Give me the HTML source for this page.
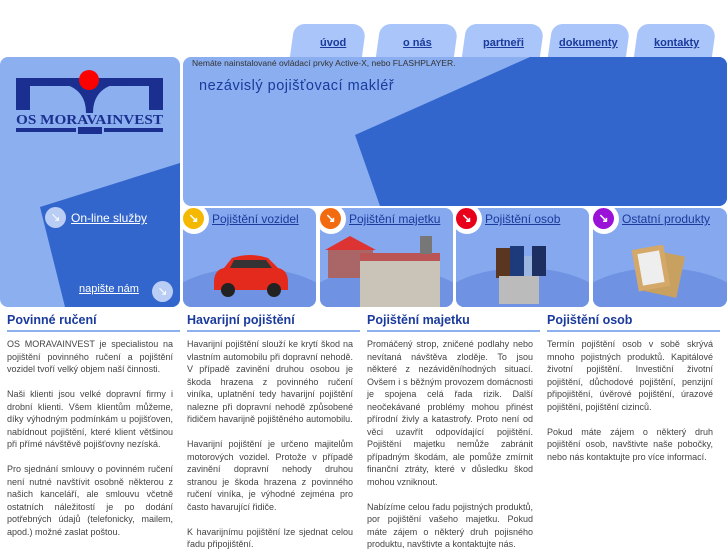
<!DOCTYPE html>
<html><head><meta charset="utf-8"><style>
*{margin:0;padding:0;box-sizing:border-box}
body{width:727px;height:545px;overflow:hidden;background:#fff;font-family:"Liberation Sans",sans-serif;position:relative}
.tab{position:absolute;top:24px;height:36px;background:#a9c5f9;border-radius:10px 14px 0 0;transform:skewX(-8deg);}
.tl{position:absolute;top:37px;font-size:11px;font-weight:bold;color:#1a3a9c;text-decoration:underline}
.card{position:absolute;top:208px;height:99px;background:#86a8ee;border-radius:8px;overflow:hidden}
.card .wave{position:absolute;left:-20px;right:-20px;top:60px;height:80px;background:#6f93e2;border-radius:50% 50% 0 0}
.ic{position:absolute;left:-4px;top:-4px;width:30px;height:30px;border-radius:50%;background:#fff}
.ic i{position:absolute;left:4px;top:4px;width:21px;height:21px;border-radius:50%;color:#fff;font-style:normal;font-size:12px;text-align:center;line-height:21px;font-weight:bold}
.cl{position:absolute;top:4px;left:29px;font-size:12px;color:#1a3a9c;text-decoration:underline;white-space:nowrap}
.col{position:absolute;top:313px;width:173px}
.col h2{font-size:12.5px;color:#1a3a9c;font-weight:bold;height:19px;border-bottom:2px solid #8fb0ef;padding-left:0}
.col p{font-size:9px;line-height:12.5px;color:#444;text-align:justify;margin-top:6px;width:166px}
.col p+p{margin-top:12.5px}
</style></head><body>
<div class="tab" style="left:292px;width:72px"></div>
<div class="tab" style="left:378px;width:78px"></div>
<div class="tab" style="left:464px;width:78px"></div>
<div class="tab" style="left:550px;width:78px"></div>
<div class="tab" style="left:636px;width:78px"></div>
<span class="tl" style="left:320px">úvod</span>
<span class="tl" style="left:403px">o nás</span>
<span class="tl" style="left:483px">partneři</span>
<span class="tl" style="left:559px">dokumenty</span>
<span class="tl" style="left:654px">kontakty</span>

<!-- left panel -->
<div style="position:absolute;left:0;top:57px;width:180px;height:250px;background:#8bafef;border-radius:8px;overflow:hidden">
<svg width="180" height="250" style="position:absolute;left:0;top:0"><polygon points="180,106 180,250 65,250 40,150" fill="#3366cc"/></svg>
<svg width="150" height="70" style="position:absolute;left:16px;top:11px">
<rect x="0" y="10" width="147" height="8" fill="#1a2f8f"/>
<rect x="0" y="10" width="14" height="32" fill="#1a2f8f"/><rect x="133" y="10" width="14" height="32" fill="#1a2f8f"/>
<path d="M30 14 Q70 14 70 45 L77 45 Q77 14 117 14 Z" fill="#1a2f8f"/>
<circle cx="73" cy="12" r="10" fill="#f00"/>
<text x="0" y="56" font-family="Liberation Serif" font-weight="bold" font-size="14" fill="#1a2f8f" textLength="147" lengthAdjust="spacingAndGlyphs">OS MORAVAINVEST</text>
<rect x="0" y="60" width="60" height="4" fill="#1a2f8f"/><rect x="88" y="60" width="59" height="4" fill="#1a2f8f"/>
<rect x="62" y="59" width="24" height="7" fill="#1a2f8f"/>
</svg>
<div style="position:absolute;left:45px;top:150px;width:21px;height:21px;border-radius:50%;background:#b9cdf5;color:#fff;font-size:12px;text-align:center;line-height:21px">↘</div>
<span style="position:absolute;left:71px;top:154px;font-size:12px;color:#fff;text-decoration:underline">On-line služby</span>
<span style="position:absolute;left:79px;top:226px;font-size:11px;color:#fff;text-decoration:underline">napište nám</span>
<div style="position:absolute;left:152px;top:224px;width:21px;height:21px;border-radius:50%;background:#b9cdf5;color:#fff;font-size:12px;text-align:center;line-height:21px">↘</div>
</div>

<!-- banner -->
<div style="position:absolute;left:183px;top:57px;width:544px;height:149px;background:#8aaef0;border-radius:8px;overflow:hidden">
<svg width="544" height="149" style="position:absolute;left:0;top:0"><polygon points="347,0 544,0 544,149 197,149 172,78" fill="#3366cc"/></svg>
<div style="position:absolute;left:9px;top:1px;font-size:8.5px;color:#333">Nemáte nainstalované ovládací prvky Active-X, nebo FLASHPLAYER.</div>
<div style="position:absolute;left:16px;top:21px;font-size:14.5px;color:#1a3a9c;letter-spacing:0.5px">nezávislý pojišťovací makléř</div>
</div>

<!-- cards -->
<div class="card" style="left:183px;width:133px"><div class="wave"></div>
<svg width="80" height="50" style="position:absolute;left:27px;top:42px"><path d="M4 32 Q4 20 14 18 L22 8 Q40 2 58 8 L68 18 Q78 20 78 32 L78 40 L4 40 Z" fill="#e32a1c"/><path d="M24 10 L56 10 L62 18 L20 18 Z" fill="#333"/><circle cx="18" cy="40" r="7" fill="#222"/><circle cx="64" cy="40" r="7" fill="#222"/></svg>
<div class="ic"><i style="background:#f5b800">↘</i></div><span class="cl">Pojištění vozidel</span></div>
<div class="card" style="left:320px;width:133px"><div class="wave"></div>
<svg width="130" height="80" style="position:absolute;left:0;top:20px"><rect x="8" y="20" width="45" height="30" fill="#a66"/><polygon points="5,22 30,8 56,22" fill="#d33"/><rect x="40" y="25" width="80" height="60" fill="#c9c3b8"/><rect x="40" y="25" width="80" height="8" fill="#b55"/><rect x="100" y="8" width="12" height="18" fill="#777"/></svg>
<div class="ic"><i style="background:#f26b10">↘</i></div><span class="cl">Pojištění majetku</span></div>
<div class="card" style="left:456px;width:133px"><div class="wave"></div>
<svg width="60" height="70" style="position:absolute;left:38px;top:28px"><rect x="2" y="12" width="14" height="30" fill="#5a3520"/><rect x="16" y="10" width="14" height="30" fill="#1d3a7a"/><rect x="30" y="20" width="12" height="30" fill="#9bb6e0"/><rect x="38" y="10" width="14" height="30" fill="#1d2f60"/><rect x="5" y="40" width="40" height="28" fill="#bbb"/></svg>
<div class="ic"><i style="background:#e8001a">↘</i></div><span class="cl">Pojištění osob</span></div>
<div class="card" style="left:593px;width:134px"><div class="wave"></div>
<svg width="60" height="55" style="position:absolute;left:38px;top:37px"><rect x="18" y="8" width="32" height="42" fill="#c8a060" transform="rotate(12 34 29)"/><rect x="4" y="2" width="32" height="42" fill="#d4a868" transform="rotate(-10 20 23)"/><rect x="9" y="7" width="22" height="32" fill="#eee" transform="rotate(-10 20 23)"/></svg>
<div class="ic"><i style="background:#9a12d8">↘</i></div><span class="cl">Ostatní produkty</span></div>

<!-- columns -->
<div class="col" style="left:7px"><h2>Povinné ručení</h2>
<p>OS MORAVAINVEST je specialistou na pojištění povinného ručení a pojištění vozidel tvoří velký objem naší činnosti.</p>
<p>Naši klienti jsou velké dopravní firmy i drobní klienti. Všem klientům můžeme, díky výhodným podmínkám u pojišťoven, nabídnout pojištění, které klient většinou při přímé návštěvě pojišťovny nezíská.</p>
<p>Pro sjednání smlouvy o povinném ručení není nutné navštívit osobně některou z našich kanceláří, ale smlouvu včetně ostatních náležitostí je po dodání potřebných údajů (telefonicky, mailem, apod.) možné zaslat poštou.</p></div>
<div class="col" style="left:187px"><h2>Havarijní pojištění</h2>
<p>Havarijní pojištění slouží ke krytí škod na vlastním automobilu při dopravní nehodě. V případě zavinění druhou osobou je škoda hrazena z povinného ručení viníka, uplatnění tedy havarijní pojištění nalezne při dopravní nehodě způsobené řidičem havarijně pojištěného automobilu.</p>
<p>Havarijní pojištění je určeno majitelům motorových vozidel. Protože v případě zavinění dopravní nehody druhou stranou je škoda hrazena z povinného ručení viníka, je výhodné zejména pro často havarující řidiče.</p>
<p>K havarijnímu pojištění lze sjednat celou řadu připojištění.</p></div>
<div class="col" style="left:367px"><h2>Pojištění majetku</h2>
<p>Promáčený strop, zničené podlahy nebo nevítaná návštěva zloděje. To jsou některé z nezáviděníhodných situací. Ovšem i s běžným provozem domácnosti je spojena celá řada rizik. Další neočekávané problémy mohou přinést přírodní živly a katastrofy. Proto není od věci uzavřít odpovídající pojištění. Pojištění majetku nemůže zabránit případným škodám, ale pomůže zmírnit finanční ztráty, které v důsledku škod mohou vzniknout.</p>
<p>Nabízíme celou řadu pojistných produktů, por pojištění vašeho majetku. Pokud máte zájem o některý druh pojisného produktu, navštivte a kontaktujte nás.</p></div>
<div class="col" style="left:547px"><h2>Pojištění osob</h2>
<p>Termín pojištění osob v sobě skrývá mnoho pojistných produktů. Kapitálové životní pojištění. Investiční životní pojištění, důchodové pojištění, penzijní připojištění, úvěrové pojištění, úrazové pojištění, pojištění cizinců.</p>
<p>Pokud máte zájem o některý druh pojištění osob, navštivte naše pobočky, nebo nás kontaktujte pro více informací.</p></div>
</body></html>
